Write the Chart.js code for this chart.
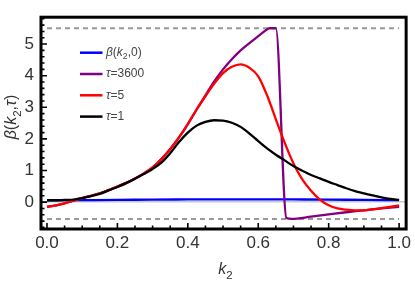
<!DOCTYPE html>
<html lang="en">
<head>
<meta charset="UTF-8">
<title>beta(k2, tau)</title>
<script src="https://cdn.jsdelivr.net/npm/chart.js"></script>
<style>
  html, body { margin: 0; padding: 0; background: #fff; }
  #wrap { width: 415px; height: 281px; }
</style>
</head>
<body>
<div id="wrap"><canvas id="chart"></canvas></div>
<script>
// k2 grid used for the smooth curves
const kGrid = [0, 0.025, 0.05, 0.075, 0.1, 0.125, 0.15, 0.175, 0.2, 0.225,
               0.25, 0.275, 0.3, 0.325, 0.35, 0.375, 0.4, 0.425, 0.45, 0.475,
               0.5, 0.525, 0.55, 0.575, 0.6, 0.625, 0.65, 0.675, 0.7, 0.725,
               0.75, 0.775, 0.8, 0.825, 0.85, 0.875, 0.9, 0.925, 0.95, 0.975, 1];

const tau1 = [0.06, 0.06, 0.07, 0.08, 0.13, 0.19, 0.26, 0.37, 0.48, 0.60,
              0.74, 0.89, 1.05, 1.25, 1.55, 1.90, 2.20, 2.42, 2.54, 2.59,
              2.58, 2.51, 2.38, 2.17, 1.93, 1.70, 1.50, 1.32, 1.14, 0.99,
              0.86, 0.75, 0.64, 0.54, 0.44, 0.35, 0.28, 0.21, 0.15, 0.10, 0.07];

const tau5 = [-0.15, -0.10, -0.04, 0.05, 0.13, 0.20, 0.28, 0.38, 0.49, 0.61,
              0.75, 0.91, 1.10, 1.36, 1.68, 2.05, 2.47, 2.93, 3.35, 3.75,
              4.08, 4.28, 4.36, 4.25, 3.98, 3.38, 2.62, 1.88, 1.22, 0.72,
              0.36, 0.08, -0.10, -0.20, -0.24, -0.26, -0.26, -0.23, -0.19, -0.15, -0.10];

// tau = 3600 has a sharp drop, so it gets its own k2 points
const kLong = [0, 0.025, 0.05, 0.075, 0.1, 0.125, 0.15, 0.175, 0.2, 0.225,
               0.25, 0.275, 0.3, 0.325, 0.35, 0.375, 0.4, 0.425, 0.45, 0.475,
               0.5, 0.525, 0.55, 0.575, 0.6, 0.615, 0.632, 0.65, 0.68, 0.695,
               0.75, 0.8, 0.85, 0.9, 0.95, 1];
const tau3600 = [-0.15, -0.10, -0.04, 0.05, 0.13, 0.20, 0.28, 0.38, 0.49, 0.61,
                 0.75, 0.91, 1.10, 1.36, 1.68, 2.05, 2.47, 2.93, 3.38, 3.82,
                 4.20, 4.52, 4.80, 5.03, 5.25, 5.38, 5.50, 5.50, -0.50, -0.53,
                 -0.46, -0.39, -0.32, -0.26, -0.20, -0.15];

const kBeta = [0, 0.1, 0.2, 0.3, 0.4, 0.5, 0.6, 0.7, 0.8, 0.9, 1];
const beta0 = [0.06, 0.065, 0.07, 0.08, 0.085, 0.09, 0.09, 0.085, 0.08, 0.07, 0.065];

// dashed bounds
const boundLevels = [5.5, -0.53];
const boundSpan = [0, 1];

const xTicks = [0, 0.2, 0.4, 0.6, 0.8, 1];
const yTicks = [0, 1, 2, 3, 4, 5];

const FONT = '"Liberation Sans", Arial, sans-serif';

function pts(xs, ys) {
    return xs.map((x, i) => ({ x: x, y: ys[i] }));
}

// draws text made of pieces: [text, style] with style '' / 'i' (italic) / 's' (subscript)
function richText(ctx, parts, x, y, size, align) {
    let w = 0;
    const items = parts.map(([t, s]) => {
        const sub = s === 's';
        const fs = sub ? size * 0.72 : size;
        const font = (s === 'i' ? 'italic ' : '') + fs + 'px ' + FONT;
        ctx.font = font;
        const tw = ctx.measureText(t).width;
        w += tw;
        return { t: t, font: font, tw: tw, dy: sub ? size * 0.3 : 0 };
    });
    let cx = align === 'center' ? x - w / 2 : x;
    ctx.textAlign = 'left';
    items.forEach(it => {
        ctx.font = it.font;
        ctx.fillText(it.t, cx, y + it.dy);
        cx += it.tw;
    });
}

const legendParts = {
    beta: [['β', 'i'], ['(', ''], ['k', 'i'], ['2', 's'], [',0)', '']],
    t3600: [['τ', 'i'], ['=3600', '']],
    t5: [['τ', 'i'], ['=5', '']],
    t1: [['τ', 'i'], ['=1', '']]
};

const lineWidth = 2.3;

const datasets = [
    { key: 'beta', data: pts(kBeta, beta0), borderColor: '#0000ff', order: 4 },
    { key: 't3600', data: pts(kLong, tau3600), borderColor: '#800080', order: 3 },
    { key: 't5', data: pts(kGrid, tau5), borderColor: '#ff0000', order: 2 },
    { key: 't1', data: pts(kGrid, tau1), borderColor: '#000000', order: 1 }
].map(d => Object.assign(d, {
    borderWidth: lineWidth,
    cubicInterpolationMode: 'monotone',
    fill: false
}));

boundLevels.forEach(b => {
    datasets.push({
        data: pts(boundSpan, [b, b]),
        borderColor: '#999999',
        borderWidth: 2,
        borderDash: [5, 4],
        fill: false,
        order: 5
    });
});

const framePlugin = {
    id: 'frame',
    afterDatasetsDraw(chart) {
        const ctx = chart.ctx;
        const a = chart.chartArea;
        const xs = chart.scales.x, ys = chart.scales.y;
        ctx.save();

        // legend inside plot
        let ly = 52.7;
        chart.data.datasets.forEach(d => {
            if (!d.key) return;
            ctx.strokeStyle = d.borderColor;
            ctx.lineWidth = 2.5;
            ctx.beginPath();
            ctx.moveTo(80, ly);
            ctx.lineTo(102.5, ly);
            ctx.stroke();
            ctx.fillStyle = '#444';
            ctx.textBaseline = 'middle';
            richText(ctx, legendParts[d.key], 106, ly, 12, 'left');
            ly += 21.3;
        });

        // frame
        ctx.strokeStyle = '#000';
        ctx.lineWidth = 3;
        ctx.strokeRect(a.left, a.top, a.right - a.left, a.bottom - a.top);

        // inside ticks on left and bottom
        ctx.lineWidth = 1.6;
        ctx.beginPath();
        for (let i = 0; i <= 20; i++) {
            const v = i * 0.05;
            const px = xs.getPixelForValue(v);
            const len = i % 4 === 0 ? 6 : 3.5;
            ctx.moveTo(px, a.bottom);
            ctx.lineTo(px, a.bottom - len);
        }
        for (let i = -4; i <= 29; i++) {
            const v = i * 0.2;
            const py = ys.getPixelForValue(v);
            const len = i % 5 === 0 ? 6 : 3.5;
            ctx.moveTo(a.left, py);
            ctx.lineTo(a.left + len, py);
        }
        ctx.stroke();

        // axis titles
        ctx.fillStyle = '#333';
        ctx.textBaseline = 'alphabetic';
        richText(ctx, [['k', 'i'], ['2', 's']], (a.left + a.right) / 2 + 2, 274, 16, 'center');
        ctx.translate(16, 117);
        ctx.rotate(-Math.PI / 2);
        richText(ctx, [['β', 'i'], ['(', ''], ['k', 'i'], ['2', 's'], [',', ''], ['τ', 'i'], [')', '']], 0, 0, 16, 'center');
        ctx.restore();
    }
};

new Chart(document.getElementById('chart'), {
    type: 'line',
    data: { datasets: datasets },
    options: {
        responsive: true,
        maintainAspectRatio: false,
        animation: false,
        layout: { padding: { top: 1, right: 5, left: 0, bottom: 0 } },
        elements: { point: { radius: 0 } },
        plugins: { legend: { display: false }, tooltip: { enabled: false } },
        scales: {
            x: {
                type: 'linear',
                min: -0.017,
                max: 1.02,
                afterFit: s => { s.height = 52; },
                afterBuildTicks: s => { s.ticks = xTicks.map(v => ({ value: v })); },
                ticks: {
                    callback: v => v.toFixed(1),
                    font: { family: FONT, size: 17 },
                    color: '#333',
                    padding: 4,
                    maxRotation: 0,
                    autoSkip: false
                },
                grid: { display: false, drawTicks: false },
                border: { display: false }
            },
            y: {
                type: 'linear',
                min: -0.85,
                max: 5.85,
                afterFit: s => { s.width = 41; },
                afterBuildTicks: s => { s.ticks = yTicks.map(v => ({ value: v })); },
                ticks: {
                    callback: v => String(v),
                    font: { family: FONT, size: 17 },
                    color: '#333',
                    padding: 7
                },
                grid: {
                    color: c => (c.tick && c.tick.value === 0 ? '#c8c8c8' : 'rgba(0,0,0,0)'),
                    lineWidth: 1.5,
                    drawTicks: false
                },
                border: { display: false }
            }
        }
    },
    plugins: [framePlugin]
});
</script>
</body>
</html>
